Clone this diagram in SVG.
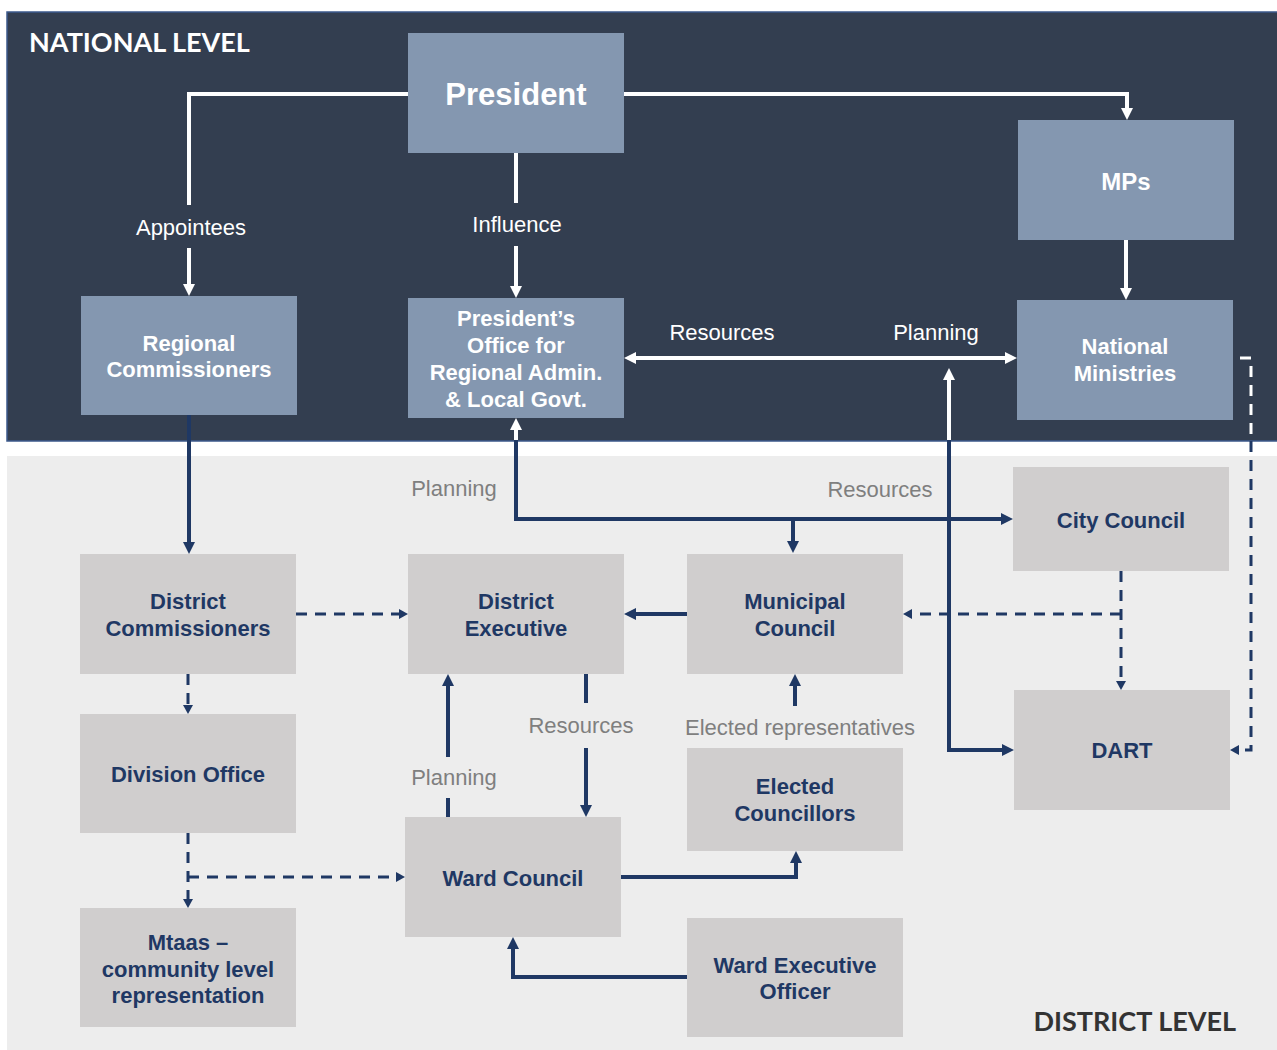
<svg xmlns="http://www.w3.org/2000/svg" width="1277" height="1050" viewBox="0 0 1277 1050">
  <defs>
    <style>
      .nat-node { fill: #8497b0; }
      .dist-node { fill: #d0cece; }
      .nat-text { font-family: "Liberation Sans", Arial, sans-serif; font-weight: bold; font-size: 22px; fill: #ffffff; text-anchor: middle; }
      .dist-text { font-family: "Liberation Sans", Arial, sans-serif; font-weight: bold; font-size: 22px; fill: #1f3864; text-anchor: middle; }
      .nat-label { font-family: "Liberation Sans", Arial, sans-serif; font-size: 22px; fill: #ffffff; text-anchor: middle; }
      .dist-label { font-family: "Liberation Sans", Arial, sans-serif; font-size: 22px; fill: #7f7f7f; text-anchor: middle; }
      .level { font-family: Lato, "Open Sans", sans-serif; font-weight: bold; font-size: 27px; }
      .w { fill: none; stroke: #ffffff; stroke-width: 4; }
      .n { fill: none; stroke: #1f3864; stroke-width: 4; }
      .nd { fill: none; stroke: #1f3864; stroke-width: 3; stroke-dasharray: 11 8; }
      .wd { fill: none; stroke: #ffffff; stroke-width: 3; stroke-dasharray: 11 8; }
    </style>
    <marker id="aw" viewBox="0 0 12 12" refX="4" refY="6" markerWidth="12" markerHeight="12" markerUnits="userSpaceOnUse" orient="auto-start-reverse">
      <path d="M0,0 L12,6 L0,12 z" fill="#ffffff"/>
    </marker>
    <marker id="an" viewBox="0 0 12 12" refX="4" refY="6" markerWidth="12" markerHeight="12" markerUnits="userSpaceOnUse" orient="auto-start-reverse">
      <path d="M0,0 L12,6 L0,12 z" fill="#1f3864"/>
    </marker>
    <marker id="and" viewBox="0 0 9 10" refX="3" refY="5" markerWidth="9" markerHeight="10" markerUnits="userSpaceOnUse" orient="auto">
      <path d="M0,0 L9,5 L0,10 z" fill="#1f3864"/>
    </marker>
  </defs>

  <!-- level panels -->
  <rect x="7" y="12" width="1272" height="429" fill="#333e50" stroke="#3c5a8c" stroke-width="1.5"/>
  <rect x="7" y="456" width="1270" height="594" fill="#ededed"/>
  <text class="level" x="29" y="52" fill="#ffffff">NATIONAL LEVEL</text>
  <text class="level" x="1236" y="1031" fill="#333333" text-anchor="end">DISTRICT LEVEL</text>

  <!-- connectors -->
  <g id="connectors">
    <!-- national level (white) -->
    <path class="w" d="M408,94 H189 V205"/>
    <path class="w" d="M189,248 V288" marker-end="url(#aw)"/>
    <path class="w" d="M624,94 H1127 V112" marker-end="url(#aw)"/>
    <path class="w" d="M516,153 V203"/>
    <path class="w" d="M516,246 V290" marker-end="url(#aw)"/>
    <path class="w" d="M1126,240 V292" marker-end="url(#aw)"/>
    <path class="w" d="M632,358 H1009" marker-start="url(#aw)" marker-end="url(#aw)"/>
    <path class="w" d="M949,441 V376" marker-end="url(#aw)"/>
    <path class="w" d="M516,441 V426" marker-end="url(#aw)"/>
    <path class="wd" d="M1240,358 H1251 V441"/>

    <!-- district level (navy) -->
    <path class="n" d="M516,440 V519 H1005" marker-end="url(#an)"/>
    <path class="n" d="M793,519 V545" marker-end="url(#an)"/>
    <path class="n" d="M949,440 V750 H1006" marker-end="url(#an)"/>
    <path class="n" d="M189,415 V546" marker-end="url(#an)"/>
    <path class="n" d="M687,614 H632" marker-end="url(#an)"/>
    <path class="n" d="M586,674 V703"/>
    <path class="n" d="M586,748 V809" marker-end="url(#an)"/>
    <path class="n" d="M448,817 V798"/>
    <path class="n" d="M448,757 V682" marker-end="url(#an)"/>
    <path class="n" d="M795,706 V682" marker-end="url(#an)"/>
    <path class="n" d="M621,877 H796 V859" marker-end="url(#an)"/>
    <path class="n" d="M687,977 H513 V945" marker-end="url(#an)"/>

    <!-- dashed links -->
    <path class="nd" d="M296,614 H402" marker-end="url(#and)"/>
    <path class="nd" d="M188,674 V708" marker-end="url(#and)"/>
    <path class="nd" d="M188,833 V902" marker-end="url(#and)"/>
    <path class="nd" d="M188,877 H399" marker-end="url(#and)"/>
    <path class="nd" d="M1121,571 V684" marker-end="url(#and)"/>
    <path class="nd" d="M1121,614 H909" marker-end="url(#and)"/>
    <path class="nd" d="M1251,441 V750 H1236" marker-end="url(#and)"/>
  </g>

  <!-- connector labels -->
  <g id="labels">
    <text class="nat-label" x="191" y="235">Appointees</text>
    <text class="nat-label" x="517" y="232">Influence</text>
    <text class="nat-label" x="722" y="340">Resources</text>
    <text class="nat-label" x="936" y="340">Planning</text>
    <text class="dist-label" x="454" y="496">Planning</text>
    <text class="dist-label" x="880" y="497">Resources</text>
    <text class="dist-label" x="581" y="733">Resources</text>
    <text class="dist-label" x="454" y="785">Planning</text>
    <text class="dist-label" x="800" y="735">Elected representatives</text>
  </g>

  <!-- national nodes -->
  <g id="president">
    <rect class="nat-node" x="408" y="33" width="216" height="120"/>
    <text class="nat-text" x="516" y="105" style="font-size:31px">President</text>
  </g>
  <g id="mps">
    <rect class="nat-node" x="1018" y="120" width="216" height="120"/>
    <text class="nat-text" x="1126" y="190" style="font-size:24px">MPs</text>
  </g>
  <g id="regional-commissioners">
    <rect class="nat-node" x="81" y="296" width="216" height="119"/>
    <text class="nat-text" x="189" y="351">Regional</text>
    <text class="nat-text" x="189" y="377">Commissioners</text>
  </g>
  <g id="po-ralg">
    <rect class="nat-node" x="408" y="298" width="216" height="120"/>
    <text class="nat-text" x="516" y="326">President’s</text>
    <text class="nat-text" x="516" y="353">Office for</text>
    <text class="nat-text" x="516" y="380">Regional Admin.</text>
    <text class="nat-text" x="516" y="407">&amp; Local Govt.</text>
  </g>
  <g id="national-ministries">
    <rect class="nat-node" x="1017" y="300" width="216" height="120"/>
    <text class="nat-text" x="1125" y="354">National</text>
    <text class="nat-text" x="1125" y="381">Ministries</text>
  </g>

  <!-- district nodes -->
  <g id="city-council">
    <rect class="dist-node" x="1013" y="467" width="216" height="104"/>
    <text class="dist-text" x="1121" y="528">City Council</text>
  </g>
  <g id="district-commissioners">
    <rect class="dist-node" x="80" y="554" width="216" height="120"/>
    <text class="dist-text" x="188" y="609">District</text>
    <text class="dist-text" x="188" y="636">Commissioners</text>
  </g>
  <g id="district-executive">
    <rect class="dist-node" x="408" y="554" width="216" height="120"/>
    <text class="dist-text" x="516" y="609">District</text>
    <text class="dist-text" x="516" y="636">Executive</text>
  </g>
  <g id="municipal-council">
    <rect class="dist-node" x="687" y="554" width="216" height="120"/>
    <text class="dist-text" x="795" y="609">Municipal</text>
    <text class="dist-text" x="795" y="636">Council</text>
  </g>
  <g id="dart">
    <rect class="dist-node" x="1014" y="690" width="216" height="120"/>
    <text class="dist-text" x="1122" y="758">DART</text>
  </g>
  <g id="division-office">
    <rect class="dist-node" x="80" y="714" width="216" height="119"/>
    <text class="dist-text" x="188" y="782">Division Office</text>
  </g>
  <g id="elected-councillors">
    <rect class="dist-node" x="687" y="748" width="216" height="103"/>
    <text class="dist-text" x="795" y="794">Elected</text>
    <text class="dist-text" x="795" y="821">Councillors</text>
  </g>
  <g id="ward-council">
    <rect class="dist-node" x="405" y="817" width="216" height="120"/>
    <text class="dist-text" x="513" y="886">Ward Council</text>
  </g>
  <g id="mtaas">
    <rect class="dist-node" x="80" y="908" width="216" height="119"/>
    <text class="dist-text" x="188" y="950">Mtaas –</text>
    <text class="dist-text" x="188" y="977">community level</text>
    <text class="dist-text" x="188" y="1003">representation</text>
  </g>
  <g id="ward-executive-officer">
    <rect class="dist-node" x="687" y="918" width="216" height="119"/>
    <text class="dist-text" x="795" y="973">Ward Executive</text>
    <text class="dist-text" x="795" y="999">Officer</text>
  </g>
</svg>
